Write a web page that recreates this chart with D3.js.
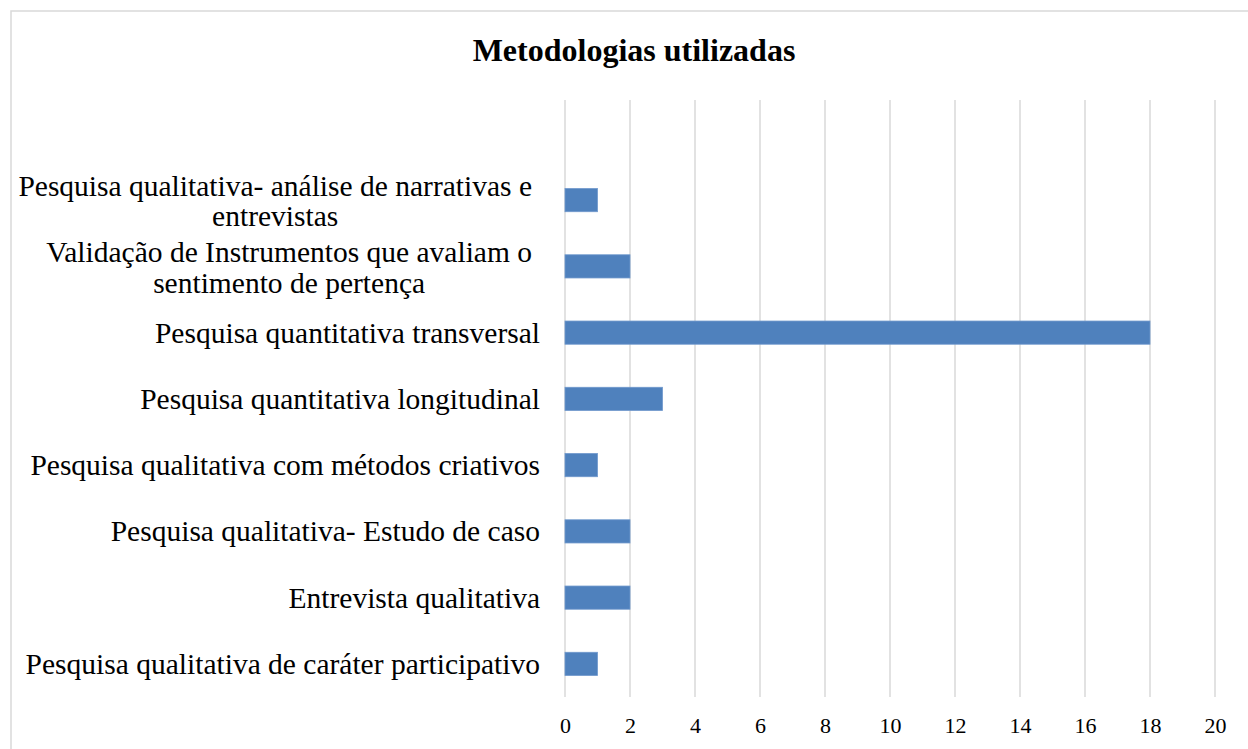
<!DOCTYPE html>
<html>
<head>
<meta charset="utf-8">
<script src="https://cdn.jsdelivr.net/npm/d3@7"></script>
<style>
  body { margin: 0; background: #fff; }
  text { font-family: "Liberation Serif", "Times New Roman", serif; fill: #000; }
</style>
</head>
<body>
<div id="chart"></div>
<script>
// categories, bottom to top as in the source chart
let categories = [
    "Pesquisa qualitativa de caráter participativo",
    "Entrevista qualitativa",
    "Pesquisa qualitativa- Estudo de caso",
    "Pesquisa qualitativa com métodos criativos",
    "Pesquisa quantitativa longitudinal",
    "Pesquisa quantitativa transversal",
    "Validação de Instrumentos que avaliam o|sentimento de pertença",
    "Pesquisa qualitativa- análise de narrativas e|entrevistas"
];
let counts = [1, 2, 2, 1, 3, 18, 2, 1];
let xTicks = [0, 2, 4, 6, 8, 10, 12, 14, 16, 18, 20];
let title = "Metodologias utilizadas";

let data = categories.map((c, i) => ({ cat: c, value: counts[i] }));

let svgWidth = 1248, svgHeight = 749;
let plot = { left: 565, right: 1215, top: 100, bottom: 697 };

let svg = d3.select("#chart")
    .append("svg")
    .attr("width", svgWidth)
    .attr("height", svgHeight);

// chart border
svg.append("rect")
    .attr("x", 11).attr("y", 11)
    .attr("width", 1260).attr("height", 760)
    .attr("fill", "none")
    .attr("stroke", "#d9d9d9")
    .attr("stroke-width", 1.5);

let xScale = d3.scaleLinear()
    .domain([0, 20])
    .range([plot.left, plot.right]);

let yScale = d3.scaleBand()
    .domain(categories.slice().reverse())
    .range([plot.bottom - 8 * 66.25, plot.bottom])
    .paddingInner(0.65)
    .paddingOuter(0.325);

// gridlines
svg.append("g")
    .selectAll("line")
    .data(xTicks)
    .enter()
    .append("line")
    .attr("x1", d => xScale(d))
    .attr("x2", d => xScale(d))
    .attr("y1", plot.top)
    .attr("y2", plot.bottom)
    .attr("stroke", "#d9d9d9")
    .attr("stroke-width", 1.5);

// x tick labels
let xAxis = d3.axisBottom(xScale).tickValues(xTicks).tickSize(0).tickPadding(0);
let xg = svg.append("g")
    .attr("transform", `translate(0, ${plot.bottom})`)
    .call(xAxis);
xg.select(".domain").remove();
xg.selectAll("text")
    .attr("y", 36)
    .attr("dy", 0)
    .style("font-size", "22px")
    .style("font-family", "Liberation Serif");

// bars
svg.append("g")
    .selectAll("rect")
    .data(data)
    .enter()
    .append("rect")
    .attr("x", xScale(0))
    .attr("y", d => yScale(d.cat))
    .attr("width", d => xScale(d.value) - xScale(0))
    .attr("height", yScale.bandwidth())
    .attr("fill", "#4f81bd")
    .attr("stroke", "#6f98cc")
    .attr("stroke-width", 0.8);

// category labels, multi-line ones centred within their block
let labelRight = 540;
let lineHeight = 30.5;
let labels = svg.append("g")
    .selectAll("text")
    .data(data)
    .enter()
    .append("text")
    .style("font-size", "29.5px");

labels.each(function(d) {
    let lines = d.cat.split("|");
    let el = d3.select(this);
    let cy = yScale(d.cat) + yScale.bandwidth() / 2;
    let spans = lines.map((ln, i) => el.append("tspan")
        .attr("y", cy + (i - (lines.length - 1) / 2) * lineHeight + (lines.length > 1 ? 11 : 10))
        .text(ln));
    if (lines.length === 1) {
        el.attr("text-anchor", "end");
        spans[0].attr("x", labelRight);
    } else {
        let w = d3.max(spans, s => s.node().getComputedTextLength());
        el.attr("text-anchor", "middle");
        spans.forEach(s => s.attr("x", labelRight - 8 - w / 2));
    }
});

// title
svg.append("text")
    .attr("x", 634)
    .attr("y", 61)
    .attr("text-anchor", "middle")
    .style("font-size", "32px")
    .style("font-weight", "bold")
    .text(title);
</script>
</body>
</html>
